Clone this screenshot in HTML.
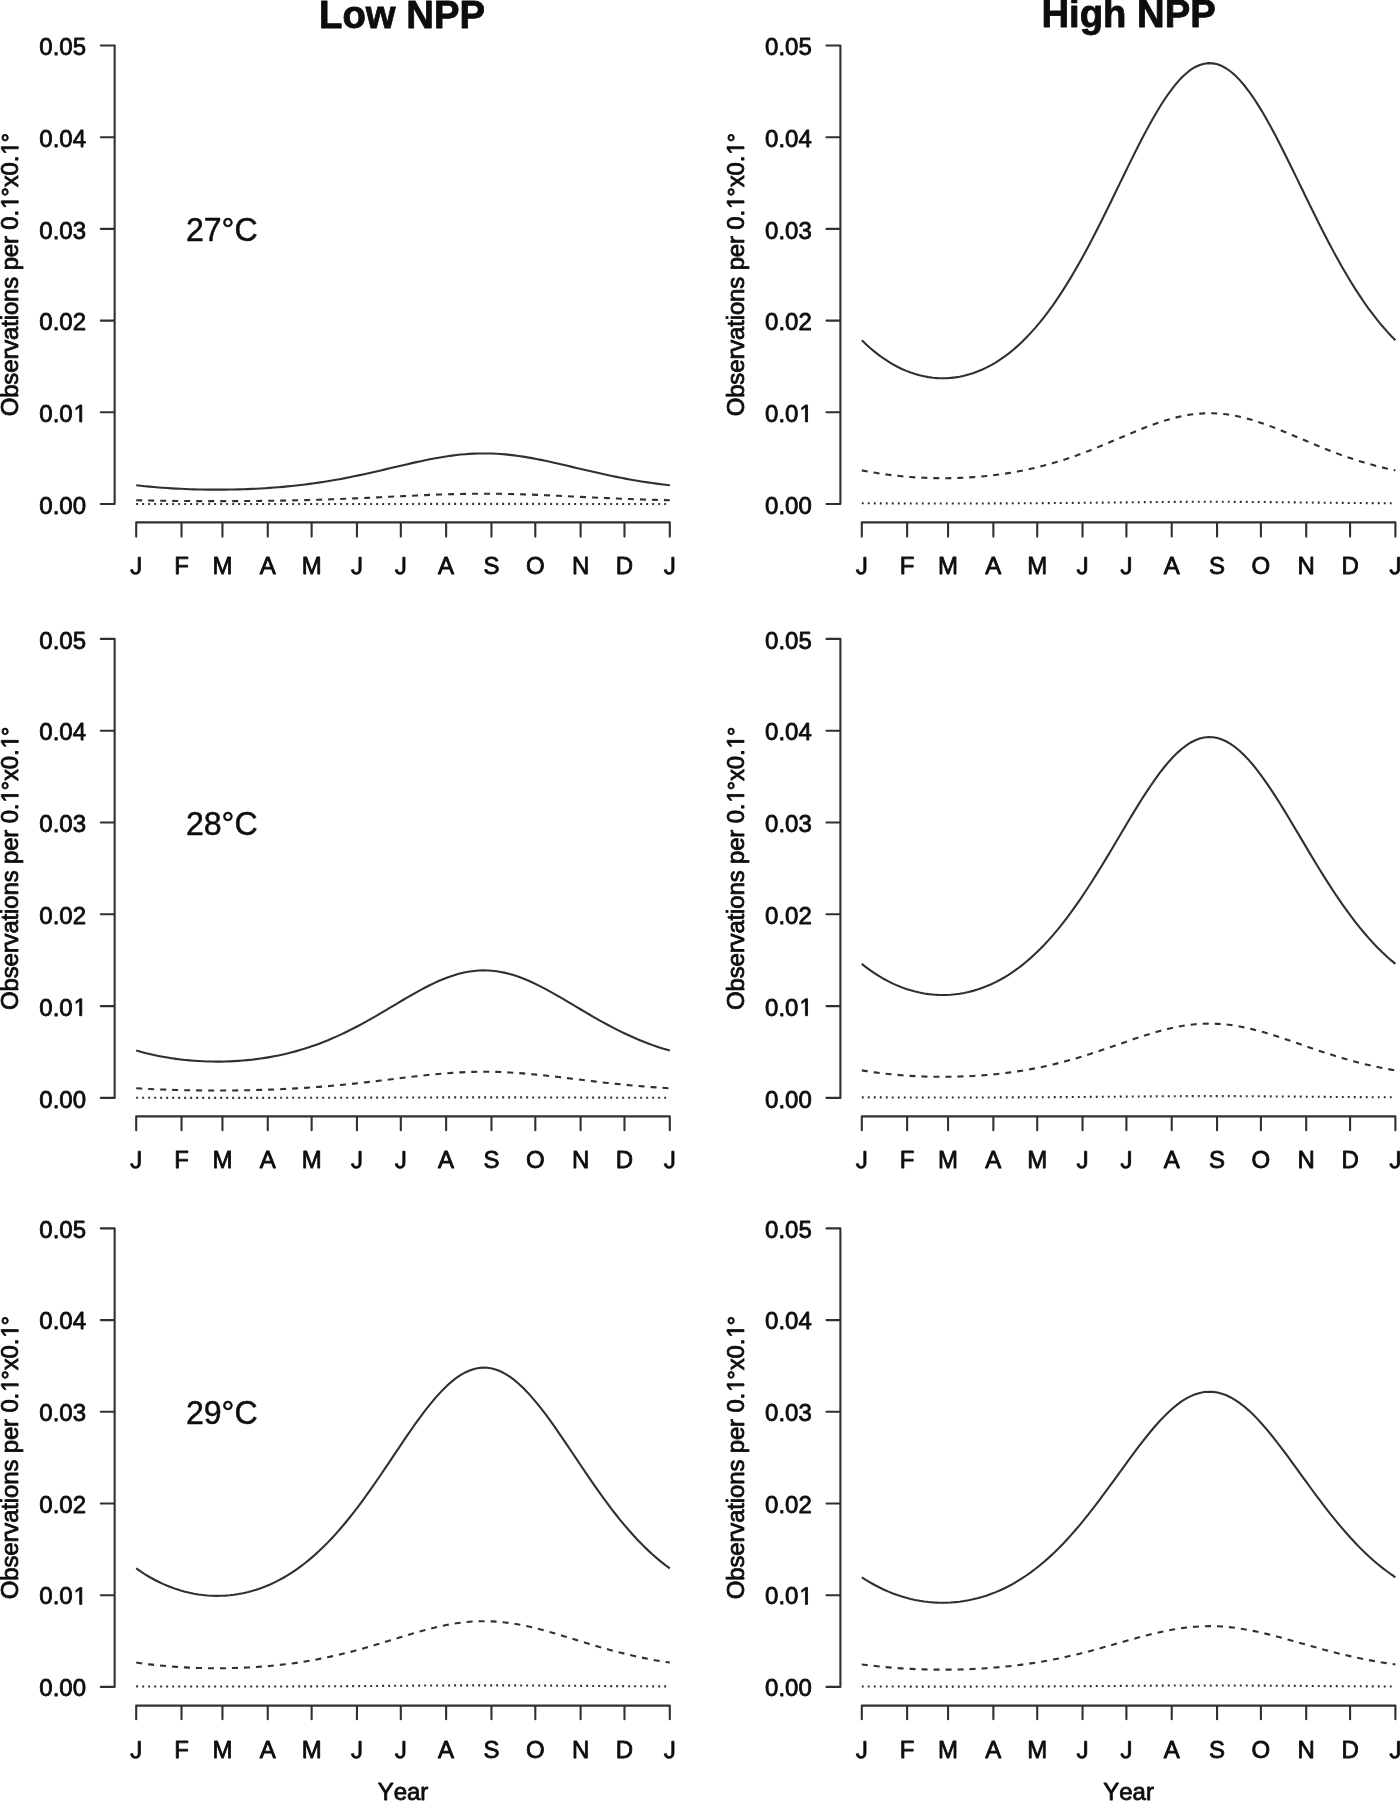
<!DOCTYPE html>
<html><head><meta charset="utf-8"><title>Figure</title>
<style>
html,body{margin:0;padding:0;background:#fff;}
svg{display:block;}
text{font-family:"Liberation Sans",sans-serif;font-kerning:none;fill:#0d0d0d;stroke:#0d0d0d;stroke-width:0.8px;stroke-linejoin:round;}
svg{filter:blur(0.65px);}
.ax{stroke:#303030;stroke-width:2.1;fill:none;stroke-linecap:round;stroke-linejoin:round;}
.c{stroke:#303030;stroke-width:2.1;fill:none;}
.d2{stroke-dasharray:6 6;}
.d3{stroke-dasharray:1.9 4.1;}
.gj{fill:#0d0d0d;stroke:#0d0d0d;stroke-width:68;stroke-linejoin:round;}
.h{fill:none;stroke:none;}
.t{font-size:24px;}
.ttl{font-size:38px;font-weight:bold;}
.tmp{font-size:32.6px;stroke-width:0.45px;}
.yt{letter-spacing:-0.16px;}
</style></head>
<body>
<svg width="1400" height="1802" viewBox="0 0 1400 1802">
<rect width="1400" height="1802" fill="#fff"/>
<text class="ttl" transform="translate(402.00 28.20) scale(1.008 1.025)" text-anchor="middle">Low NPP</text>
<text class="ttl" transform="translate(1128.60 27.30) scale(1.008 1.025)" text-anchor="middle">High NPP</text>
<g>
<path class="ax" d="M100.75 45.50 H114.65 V504.00 H100.75 M100.75 412.30 H114.65 M100.75 320.60 H114.65 M100.75 228.90 H114.65 M100.75 137.20 H114.65 M136.20 536.60 V522.40 H669.80 V536.60 M181.52 522.40 V536.60 M222.45 522.40 V536.60 M267.77 522.40 V536.60 M311.63 522.40 V536.60 M356.95 522.40 V536.60 M400.81 522.40 V536.60 M446.13 522.40 V536.60 M491.45 522.40 V536.60 M535.30 522.40 V536.60 M580.62 522.40 V536.60 M624.48 522.40 V536.60"/>
<text class="t" transform="translate(86.05 513.60) scale(1.000 1.025)" text-anchor="end">0.00</text>
<text class="t" transform="translate(86.05 421.90) scale(1.000 1.025)" text-anchor="end">0.0<tspan class="h">1</tspan></text>
<path class="gj" transform="translate(72.70 421.90) scale(0.011719 -0.012012)" d="M595 0V1237L277 1010V1180L610 1409H776V0Z"/>
<text class="t" transform="translate(86.05 330.20) scale(1.000 1.025)" text-anchor="end">0.02</text>
<text class="t" transform="translate(86.05 238.50) scale(1.000 1.025)" text-anchor="end">0.03</text>
<text class="t" transform="translate(86.05 146.80) scale(1.000 1.025)" text-anchor="end">0.04</text>
<text class="t" transform="translate(86.05 55.10) scale(1.000 1.025)" text-anchor="end">0.05</text>
<path class="gj" transform="translate(130.20 574.10) scale(0.011719 -0.012012)" d="M457 -20Q99 -20 32 350L219 381Q237 265 300 200Q363 135 458 135Q562 135 622 206.5Q682 278 682 416V1409H872V420Q872 215 761 97.5Q650 -20 457 -20Z"/>
<text class="t" transform="translate(181.52 574.10) scale(1.000 1.025)" text-anchor="middle">F</text>
<text class="t" transform="translate(222.45 574.10) scale(1.000 1.025)" text-anchor="middle">M</text>
<text class="t" transform="translate(267.77 574.10) scale(1.000 1.025)" text-anchor="middle">A</text>
<text class="t" transform="translate(311.63 574.10) scale(1.000 1.025)" text-anchor="middle">M</text>
<path class="gj" transform="translate(350.95 574.10) scale(0.011719 -0.012012)" d="M457 -20Q99 -20 32 350L219 381Q237 265 300 200Q363 135 458 135Q562 135 622 206.5Q682 278 682 416V1409H872V420Q872 215 761 97.5Q650 -20 457 -20Z"/>
<path class="gj" transform="translate(394.81 574.10) scale(0.011719 -0.012012)" d="M457 -20Q99 -20 32 350L219 381Q237 265 300 200Q363 135 458 135Q562 135 622 206.5Q682 278 682 416V1409H872V420Q872 215 761 97.5Q650 -20 457 -20Z"/>
<text class="t" transform="translate(446.13 574.10) scale(1.000 1.025)" text-anchor="middle">A</text>
<text class="t" transform="translate(491.45 574.10) scale(1.000 1.025)" text-anchor="middle">S</text>
<text class="t" transform="translate(535.30 574.10) scale(1.000 1.025)" text-anchor="middle">O</text>
<text class="t" transform="translate(580.62 574.10) scale(1.000 1.025)" text-anchor="middle">N</text>
<text class="t" transform="translate(624.48 574.10) scale(1.000 1.025)" text-anchor="middle">D</text>
<path class="gj" transform="translate(663.80 574.10) scale(0.011719 -0.012012)" d="M457 -20Q99 -20 32 350L219 381Q237 265 300 200Q363 135 458 135Q562 135 622 206.5Q682 278 682 416V1409H872V420Q872 215 761 97.5Q650 -20 457 -20Z"/>
<text class="t yt" transform="translate(18.25 274.75) rotate(-90) scale(1.000 1.025)" text-anchor="middle">Observations per 0.<tspan class="h">1</tspan>°x0.<tspan class="h">1</tspan>°</text>
<path class="gj" transform="translate(18.25 274.75) rotate(-90) scale(1 1.025) translate(64.806 0) scale(0.011719 -0.011719)" d="M595 0V1237L277 1010V1180L610 1409H776V0Z"/>
<path class="gj" transform="translate(18.25 274.75) rotate(-90) scale(1 1.025) translate(118.967 0) scale(0.011719 -0.011719)" d="M595 0V1237L277 1010V1180L610 1409H776V0Z"/>
<path class="c" d="M136.20 485.30 L140.65 485.79 L145.09 486.24 L149.54 486.67 L153.99 487.06 L158.43 487.43 L162.88 487.76 L167.33 488.07 L171.77 488.35 L176.22 488.60 L180.67 488.82 L185.11 489.02 L189.56 489.19 L194.01 489.33 L198.45 489.45 L202.90 489.54 L207.35 489.61 L211.79 489.65 L216.24 489.67 L220.69 489.66 L225.13 489.63 L229.58 489.57 L234.03 489.49 L238.47 489.38 L242.92 489.25 L247.37 489.09 L251.81 488.90 L256.26 488.69 L260.71 488.45 L265.15 488.19 L269.60 487.89 L274.05 487.57 L278.49 487.21 L282.94 486.83 L287.39 486.42 L291.83 485.98 L296.28 485.50 L300.73 484.99 L305.17 484.45 L309.62 483.88 L314.07 483.27 L318.51 482.63 L322.96 481.96 L327.41 481.25 L331.85 480.51 L336.30 479.74 L340.75 478.93 L345.19 478.10 L349.64 477.23 L354.09 476.33 L358.53 475.40 L362.98 474.45 L367.43 473.48 L371.87 472.48 L376.32 471.46 L380.77 470.43 L385.21 469.39 L389.66 468.34 L394.11 467.29 L398.55 466.23 L403.00 465.19 L407.45 464.15 L411.89 463.13 L416.34 462.13 L420.79 461.16 L425.23 460.22 L429.68 459.32 L434.13 458.47 L438.57 457.67 L443.02 456.92 L447.47 456.23 L451.91 455.61 L456.36 455.06 L460.81 454.58 L465.25 454.18 L469.70 453.87 L474.15 453.63 L478.59 453.49 L483.04 453.43 L487.49 453.45 L491.93 453.56 L496.38 453.76 L500.83 454.05 L505.27 454.41 L509.72 454.86 L514.17 455.38 L518.61 455.97 L523.06 456.63 L527.51 457.35 L531.95 458.14 L536.40 458.97 L540.85 459.85 L545.29 460.77 L549.74 461.73 L554.19 462.72 L558.63 463.73 L563.08 464.76 L567.53 465.80 L571.97 466.86 L576.42 467.91 L580.87 468.96 L585.31 470.01 L589.76 471.04 L594.21 472.07 L598.65 473.07 L603.10 474.06 L607.55 475.02 L611.99 475.96 L616.44 476.86 L620.89 477.75 L625.33 478.60 L629.78 479.42 L634.23 480.20 L638.67 480.96 L643.12 481.68 L647.57 482.36 L652.01 483.02 L656.46 483.64 L660.91 484.22 L665.35 484.78 L669.80 485.30"/>
<path class="c d2" d="M136.20 500.26 L140.65 500.36 L145.09 500.46 L149.54 500.55 L153.99 500.63 L158.43 500.70 L162.88 500.77 L167.33 500.83 L171.77 500.89 L176.22 500.94 L180.67 500.99 L185.11 501.03 L189.56 501.06 L194.01 501.09 L198.45 501.12 L202.90 501.14 L207.35 501.15 L211.79 501.16 L216.24 501.16 L220.69 501.16 L225.13 501.16 L229.58 501.14 L234.03 501.13 L238.47 501.10 L242.92 501.08 L247.37 501.04 L251.81 501.01 L256.26 500.96 L260.71 500.91 L265.15 500.86 L269.60 500.80 L274.05 500.73 L278.49 500.66 L282.94 500.58 L287.39 500.49 L291.83 500.40 L296.28 500.30 L300.73 500.20 L305.17 500.09 L309.62 499.97 L314.07 499.85 L318.51 499.71 L322.96 499.57 L327.41 499.43 L331.85 499.28 L336.30 499.12 L340.75 498.95 L345.19 498.78 L349.64 498.60 L354.09 498.41 L358.53 498.22 L362.98 498.03 L367.43 497.83 L371.87 497.62 L376.32 497.41 L380.77 497.20 L385.21 496.98 L389.66 496.77 L394.11 496.55 L398.55 496.33 L403.00 496.12 L407.45 495.90 L411.89 495.69 L416.34 495.49 L420.79 495.29 L425.23 495.09 L429.68 494.91 L434.13 494.73 L438.57 494.57 L443.02 494.41 L447.47 494.27 L451.91 494.14 L456.36 494.03 L460.81 493.93 L465.25 493.85 L469.70 493.78 L474.15 493.73 L478.59 493.70 L483.04 493.69 L487.49 493.70 L491.93 493.72 L496.38 493.76 L500.83 493.82 L505.27 493.89 L509.72 493.99 L514.17 494.09 L518.61 494.22 L523.06 494.35 L527.51 494.50 L531.95 494.66 L536.40 494.83 L540.85 495.02 L545.29 495.21 L549.74 495.40 L554.19 495.61 L558.63 495.82 L563.08 496.03 L567.53 496.24 L571.97 496.46 L576.42 496.68 L580.87 496.89 L585.31 497.11 L589.76 497.32 L594.21 497.53 L598.65 497.74 L603.10 497.95 L607.55 498.14 L611.99 498.34 L616.44 498.52 L620.89 498.71 L625.33 498.88 L629.78 499.05 L634.23 499.21 L638.67 499.37 L643.12 499.52 L647.57 499.66 L652.01 499.79 L656.46 499.92 L660.91 500.04 L665.35 500.16 L669.80 500.26"/>
<path class="c d3" d="M136.20 504.05 L140.65 504.05 L145.09 504.05 L149.54 504.06 L153.99 504.06 L158.43 504.06 L162.88 504.06 L167.33 504.06 L171.77 504.07 L176.22 504.07 L180.67 504.07 L185.11 504.07 L189.56 504.07 L194.01 504.07 L198.45 504.07 L202.90 504.07 L207.35 504.07 L211.79 504.07 L216.24 504.07 L220.69 504.07 L225.13 504.07 L229.58 504.07 L234.03 504.07 L238.47 504.07 L242.92 504.07 L247.37 504.07 L251.81 504.07 L256.26 504.07 L260.71 504.07 L265.15 504.06 L269.60 504.06 L274.05 504.06 L278.49 504.06 L282.94 504.06 L287.39 504.05 L291.83 504.05 L296.28 504.05 L300.73 504.05 L305.17 504.04 L309.62 504.04 L314.07 504.04 L318.51 504.03 L322.96 504.03 L327.41 504.03 L331.85 504.02 L336.30 504.02 L340.75 504.01 L345.19 504.01 L349.64 504.01 L354.09 504.00 L358.53 504.00 L362.98 503.99 L367.43 503.99 L371.87 503.98 L376.32 503.97 L380.77 503.97 L385.21 503.96 L389.66 503.96 L394.11 503.95 L398.55 503.95 L403.00 503.94 L407.45 503.93 L411.89 503.93 L416.34 503.92 L420.79 503.92 L425.23 503.91 L429.68 503.91 L434.13 503.90 L438.57 503.90 L443.02 503.90 L447.47 503.89 L451.91 503.89 L456.36 503.89 L460.81 503.88 L465.25 503.88 L469.70 503.88 L474.15 503.88 L478.59 503.88 L483.04 503.88 L487.49 503.88 L491.93 503.88 L496.38 503.88 L500.83 503.88 L505.27 503.88 L509.72 503.88 L514.17 503.89 L518.61 503.89 L523.06 503.89 L527.51 503.90 L531.95 503.90 L536.40 503.91 L540.85 503.91 L545.29 503.92 L549.74 503.92 L554.19 503.93 L558.63 503.93 L563.08 503.94 L567.53 503.94 L571.97 503.95 L576.42 503.96 L580.87 503.96 L585.31 503.97 L589.76 503.97 L594.21 503.98 L598.65 503.98 L603.10 503.99 L607.55 503.99 L611.99 504.00 L616.44 504.00 L620.89 504.01 L625.33 504.01 L629.78 504.02 L634.23 504.02 L638.67 504.03 L643.12 504.03 L647.57 504.03 L652.01 504.04 L656.46 504.04 L660.91 504.04 L665.35 504.05 L669.80 504.05"/>
<text class="tmp" transform="translate(185.90 241.00) scale(0.985 1.030)" text-anchor="start">27°C</text>
</g>
<g>
<path class="ax" d="M826.50 45.50 H840.40 V504.00 H826.50 M826.50 412.30 H840.40 M826.50 320.60 H840.40 M826.50 228.90 H840.40 M826.50 137.20 H840.40 M861.80 536.60 V522.40 H1395.40 V536.60 M907.12 522.40 V536.60 M948.05 522.40 V536.60 M993.37 522.40 V536.60 M1037.23 522.40 V536.60 M1082.55 522.40 V536.60 M1126.41 522.40 V536.60 M1171.73 522.40 V536.60 M1217.05 522.40 V536.60 M1260.90 522.40 V536.60 M1306.22 522.40 V536.60 M1350.08 522.40 V536.60"/>
<text class="t" transform="translate(811.80 513.60) scale(1.000 1.025)" text-anchor="end">0.00</text>
<text class="t" transform="translate(811.80 421.90) scale(1.000 1.025)" text-anchor="end">0.0<tspan class="h">1</tspan></text>
<path class="gj" transform="translate(798.45 421.90) scale(0.011719 -0.012012)" d="M595 0V1237L277 1010V1180L610 1409H776V0Z"/>
<text class="t" transform="translate(811.80 330.20) scale(1.000 1.025)" text-anchor="end">0.02</text>
<text class="t" transform="translate(811.80 238.50) scale(1.000 1.025)" text-anchor="end">0.03</text>
<text class="t" transform="translate(811.80 146.80) scale(1.000 1.025)" text-anchor="end">0.04</text>
<text class="t" transform="translate(811.80 55.10) scale(1.000 1.025)" text-anchor="end">0.05</text>
<path class="gj" transform="translate(855.80 574.10) scale(0.011719 -0.012012)" d="M457 -20Q99 -20 32 350L219 381Q237 265 300 200Q363 135 458 135Q562 135 622 206.5Q682 278 682 416V1409H872V420Q872 215 761 97.5Q650 -20 457 -20Z"/>
<text class="t" transform="translate(907.12 574.10) scale(1.000 1.025)" text-anchor="middle">F</text>
<text class="t" transform="translate(948.05 574.10) scale(1.000 1.025)" text-anchor="middle">M</text>
<text class="t" transform="translate(993.37 574.10) scale(1.000 1.025)" text-anchor="middle">A</text>
<text class="t" transform="translate(1037.23 574.10) scale(1.000 1.025)" text-anchor="middle">M</text>
<path class="gj" transform="translate(1076.55 574.10) scale(0.011719 -0.012012)" d="M457 -20Q99 -20 32 350L219 381Q237 265 300 200Q363 135 458 135Q562 135 622 206.5Q682 278 682 416V1409H872V420Q872 215 761 97.5Q650 -20 457 -20Z"/>
<path class="gj" transform="translate(1120.41 574.10) scale(0.011719 -0.012012)" d="M457 -20Q99 -20 32 350L219 381Q237 265 300 200Q363 135 458 135Q562 135 622 206.5Q682 278 682 416V1409H872V420Q872 215 761 97.5Q650 -20 457 -20Z"/>
<text class="t" transform="translate(1171.73 574.10) scale(1.000 1.025)" text-anchor="middle">A</text>
<text class="t" transform="translate(1217.05 574.10) scale(1.000 1.025)" text-anchor="middle">S</text>
<text class="t" transform="translate(1260.90 574.10) scale(1.000 1.025)" text-anchor="middle">O</text>
<text class="t" transform="translate(1306.22 574.10) scale(1.000 1.025)" text-anchor="middle">N</text>
<text class="t" transform="translate(1350.08 574.10) scale(1.000 1.025)" text-anchor="middle">D</text>
<path class="gj" transform="translate(1389.40 574.10) scale(0.011719 -0.012012)" d="M457 -20Q99 -20 32 350L219 381Q237 265 300 200Q363 135 458 135Q562 135 622 206.5Q682 278 682 416V1409H872V420Q872 215 761 97.5Q650 -20 457 -20Z"/>
<text class="t yt" transform="translate(744.00 274.75) rotate(-90) scale(1.000 1.025)" text-anchor="middle">Observations per 0.<tspan class="h">1</tspan>°x0.<tspan class="h">1</tspan>°</text>
<path class="gj" transform="translate(744.00 274.75) rotate(-90) scale(1 1.025) translate(64.806 0) scale(0.011719 -0.011719)" d="M595 0V1237L277 1010V1180L610 1409H776V0Z"/>
<path class="gj" transform="translate(744.00 274.75) rotate(-90) scale(1 1.025) translate(118.967 0) scale(0.011719 -0.011719)" d="M595 0V1237L277 1010V1180L610 1409H776V0Z"/>
<path class="c" d="M861.80 340.24 L866.25 344.48 L870.69 348.45 L875.14 352.15 L879.59 355.58 L884.03 358.75 L888.48 361.67 L892.93 364.33 L897.37 366.75 L901.82 368.93 L906.27 370.87 L910.71 372.57 L915.16 374.05 L919.61 375.30 L924.05 376.33 L928.50 377.13 L932.95 377.72 L937.39 378.09 L941.84 378.24 L946.29 378.18 L950.73 377.90 L955.18 377.40 L959.63 376.68 L964.07 375.74 L968.52 374.59 L972.97 373.20 L977.41 371.59 L981.86 369.75 L986.31 367.67 L990.75 365.35 L995.20 362.79 L999.65 359.97 L1004.09 356.91 L1008.54 353.58 L1012.99 349.99 L1017.43 346.13 L1021.88 342.00 L1026.33 337.59 L1030.77 332.90 L1035.22 327.91 L1039.67 322.64 L1044.11 317.08 L1048.56 311.23 L1053.01 305.08 L1057.45 298.64 L1061.90 291.92 L1066.35 284.91 L1070.79 277.63 L1075.24 270.08 L1079.69 262.27 L1084.13 254.22 L1088.58 245.94 L1093.03 237.46 L1097.47 228.79 L1101.92 219.96 L1106.37 211.00 L1110.81 201.93 L1115.26 192.80 L1119.71 183.64 L1124.15 174.49 L1128.60 165.38 L1133.05 156.37 L1137.49 147.50 L1141.94 138.83 L1146.39 130.38 L1150.83 122.23 L1155.28 114.42 L1159.73 106.99 L1164.17 100.00 L1168.62 93.50 L1173.07 87.53 L1177.51 82.12 L1181.96 77.34 L1186.41 73.19 L1190.85 69.73 L1195.30 66.98 L1199.75 64.95 L1204.19 63.66 L1208.64 63.13 L1213.09 63.35 L1217.53 64.33 L1221.98 66.06 L1226.43 68.52 L1230.87 71.70 L1235.32 75.57 L1239.77 80.09 L1244.21 85.25 L1248.66 91.00 L1253.11 97.29 L1257.55 104.09 L1262.00 111.34 L1266.45 119.00 L1270.89 127.02 L1275.34 135.35 L1279.79 143.94 L1284.23 152.73 L1288.68 161.69 L1293.13 170.76 L1297.57 179.90 L1302.02 189.07 L1306.47 198.21 L1310.91 207.31 L1315.36 216.32 L1319.81 225.20 L1324.25 233.94 L1328.70 242.50 L1333.15 250.87 L1337.59 259.01 L1342.04 266.92 L1346.49 274.58 L1350.93 281.97 L1355.38 289.09 L1359.83 295.94 L1364.27 302.49 L1368.72 308.76 L1373.17 314.73 L1377.61 320.41 L1382.06 325.80 L1386.51 330.90 L1390.95 335.71 L1395.40 340.24"/>
<path class="c d2" d="M861.80 470.35 L866.25 471.23 L870.69 472.05 L875.14 472.81 L879.59 473.52 L884.03 474.17 L888.48 474.77 L892.93 475.32 L897.37 475.82 L901.82 476.27 L906.27 476.67 L910.71 477.02 L915.16 477.33 L919.61 477.58 L924.05 477.79 L928.50 477.96 L932.95 478.08 L937.39 478.16 L941.84 478.19 L946.29 478.18 L950.73 478.12 L955.18 478.02 L959.63 477.87 L964.07 477.67 L968.52 477.44 L972.97 477.15 L977.41 476.82 L981.86 476.44 L986.31 476.01 L990.75 475.53 L995.20 475.00 L999.65 474.42 L1004.09 473.79 L1008.54 473.11 L1012.99 472.37 L1017.43 471.57 L1021.88 470.72 L1026.33 469.81 L1030.77 468.84 L1035.22 467.81 L1039.67 466.73 L1044.11 465.58 L1048.56 464.37 L1053.01 463.11 L1057.45 461.78 L1061.90 460.39 L1066.35 458.95 L1070.79 457.44 L1075.24 455.89 L1079.69 454.28 L1084.13 452.62 L1088.58 450.91 L1093.03 449.16 L1097.47 447.37 L1101.92 445.55 L1106.37 443.71 L1110.81 441.84 L1115.26 439.95 L1119.71 438.07 L1124.15 436.18 L1128.60 434.30 L1133.05 432.44 L1137.49 430.61 L1141.94 428.83 L1146.39 427.09 L1150.83 425.40 L1155.28 423.79 L1159.73 422.26 L1164.17 420.82 L1168.62 419.48 L1173.07 418.25 L1177.51 417.13 L1181.96 416.15 L1186.41 415.29 L1190.85 414.58 L1195.30 414.01 L1199.75 413.59 L1204.19 413.33 L1208.64 413.22 L1213.09 413.26 L1217.53 413.47 L1221.98 413.82 L1226.43 414.33 L1230.87 414.98 L1235.32 415.78 L1239.77 416.72 L1244.21 417.78 L1248.66 418.96 L1253.11 420.26 L1257.55 421.66 L1262.00 423.16 L1266.45 424.74 L1270.89 426.39 L1275.34 428.11 L1279.79 429.88 L1284.23 431.69 L1288.68 433.54 L1293.13 435.41 L1297.57 437.29 L1302.02 439.18 L1306.47 441.07 L1310.91 442.95 L1315.36 444.80 L1319.81 446.64 L1324.25 448.44 L1328.70 450.20 L1333.15 451.93 L1337.59 453.61 L1342.04 455.24 L1346.49 456.82 L1350.93 458.34 L1355.38 459.81 L1359.83 461.22 L1364.27 462.57 L1368.72 463.86 L1373.17 465.09 L1377.61 466.27 L1382.06 467.38 L1386.51 468.43 L1390.95 469.42 L1395.40 470.35"/>
<path class="c d3" d="M861.80 503.27 L866.25 503.29 L870.69 503.31 L875.14 503.33 L879.59 503.35 L884.03 503.37 L888.48 503.38 L892.93 503.40 L897.37 503.41 L901.82 503.42 L906.27 503.43 L910.71 503.44 L915.16 503.45 L919.61 503.46 L924.05 503.46 L928.50 503.47 L932.95 503.47 L937.39 503.47 L941.84 503.47 L946.29 503.47 L950.73 503.47 L955.18 503.47 L959.63 503.46 L964.07 503.46 L968.52 503.45 L972.97 503.45 L977.41 503.44 L981.86 503.43 L986.31 503.42 L990.75 503.40 L995.20 503.39 L999.65 503.37 L1004.09 503.36 L1008.54 503.34 L1012.99 503.32 L1017.43 503.30 L1021.88 503.28 L1026.33 503.25 L1030.77 503.23 L1035.22 503.20 L1039.67 503.17 L1044.11 503.14 L1048.56 503.11 L1053.01 503.08 L1057.45 503.05 L1061.90 503.01 L1066.35 502.97 L1070.79 502.93 L1075.24 502.89 L1079.69 502.85 L1084.13 502.81 L1088.58 502.76 L1093.03 502.72 L1097.47 502.67 L1101.92 502.62 L1106.37 502.57 L1110.81 502.53 L1115.26 502.48 L1119.71 502.43 L1124.15 502.38 L1128.60 502.33 L1133.05 502.28 L1137.49 502.23 L1141.94 502.19 L1146.39 502.14 L1150.83 502.10 L1155.28 502.05 L1159.73 502.01 L1164.17 501.98 L1168.62 501.94 L1173.07 501.91 L1177.51 501.88 L1181.96 501.86 L1186.41 501.83 L1190.85 501.81 L1195.30 501.80 L1199.75 501.79 L1204.19 501.78 L1208.64 501.78 L1213.09 501.78 L1217.53 501.79 L1221.98 501.79 L1226.43 501.81 L1230.87 501.82 L1235.32 501.85 L1239.77 501.87 L1244.21 501.90 L1248.66 501.93 L1253.11 501.96 L1257.55 502.00 L1262.00 502.04 L1266.45 502.08 L1270.89 502.12 L1275.34 502.17 L1279.79 502.21 L1284.23 502.26 L1288.68 502.31 L1293.13 502.36 L1297.57 502.41 L1302.02 502.46 L1306.47 502.51 L1310.91 502.55 L1315.36 502.60 L1319.81 502.65 L1324.25 502.70 L1328.70 502.74 L1333.15 502.79 L1337.59 502.83 L1342.04 502.87 L1346.49 502.92 L1350.93 502.96 L1355.38 502.99 L1359.83 503.03 L1364.27 503.07 L1368.72 503.10 L1373.17 503.13 L1377.61 503.16 L1382.06 503.19 L1386.51 503.22 L1390.95 503.24 L1395.40 503.27"/>
</g>
<g>
<path class="ax" d="M100.75 638.90 H114.65 V1097.90 H100.75 M100.75 1006.10 H114.65 M100.75 914.30 H114.65 M100.75 822.50 H114.65 M100.75 730.70 H114.65 M136.20 1130.30 V1116.40 H669.80 V1130.30 M181.52 1116.40 V1130.30 M222.45 1116.40 V1130.30 M267.77 1116.40 V1130.30 M311.63 1116.40 V1130.30 M356.95 1116.40 V1130.30 M400.81 1116.40 V1130.30 M446.13 1116.40 V1130.30 M491.45 1116.40 V1130.30 M535.30 1116.40 V1130.30 M580.62 1116.40 V1130.30 M624.48 1116.40 V1130.30"/>
<text class="t" transform="translate(86.05 1107.50) scale(1.000 1.025)" text-anchor="end">0.00</text>
<text class="t" transform="translate(86.05 1015.70) scale(1.000 1.025)" text-anchor="end">0.0<tspan class="h">1</tspan></text>
<path class="gj" transform="translate(72.70 1015.70) scale(0.011719 -0.012012)" d="M595 0V1237L277 1010V1180L610 1409H776V0Z"/>
<text class="t" transform="translate(86.05 923.90) scale(1.000 1.025)" text-anchor="end">0.02</text>
<text class="t" transform="translate(86.05 832.10) scale(1.000 1.025)" text-anchor="end">0.03</text>
<text class="t" transform="translate(86.05 740.30) scale(1.000 1.025)" text-anchor="end">0.04</text>
<text class="t" transform="translate(86.05 648.50) scale(1.000 1.025)" text-anchor="end">0.05</text>
<path class="gj" transform="translate(130.20 1168.10) scale(0.011719 -0.012012)" d="M457 -20Q99 -20 32 350L219 381Q237 265 300 200Q363 135 458 135Q562 135 622 206.5Q682 278 682 416V1409H872V420Q872 215 761 97.5Q650 -20 457 -20Z"/>
<text class="t" transform="translate(181.52 1168.10) scale(1.000 1.025)" text-anchor="middle">F</text>
<text class="t" transform="translate(222.45 1168.10) scale(1.000 1.025)" text-anchor="middle">M</text>
<text class="t" transform="translate(267.77 1168.10) scale(1.000 1.025)" text-anchor="middle">A</text>
<text class="t" transform="translate(311.63 1168.10) scale(1.000 1.025)" text-anchor="middle">M</text>
<path class="gj" transform="translate(350.95 1168.10) scale(0.011719 -0.012012)" d="M457 -20Q99 -20 32 350L219 381Q237 265 300 200Q363 135 458 135Q562 135 622 206.5Q682 278 682 416V1409H872V420Q872 215 761 97.5Q650 -20 457 -20Z"/>
<path class="gj" transform="translate(394.81 1168.10) scale(0.011719 -0.012012)" d="M457 -20Q99 -20 32 350L219 381Q237 265 300 200Q363 135 458 135Q562 135 622 206.5Q682 278 682 416V1409H872V420Q872 215 761 97.5Q650 -20 457 -20Z"/>
<text class="t" transform="translate(446.13 1168.10) scale(1.000 1.025)" text-anchor="middle">A</text>
<text class="t" transform="translate(491.45 1168.10) scale(1.000 1.025)" text-anchor="middle">S</text>
<text class="t" transform="translate(535.30 1168.10) scale(1.000 1.025)" text-anchor="middle">O</text>
<text class="t" transform="translate(580.62 1168.10) scale(1.000 1.025)" text-anchor="middle">N</text>
<text class="t" transform="translate(624.48 1168.10) scale(1.000 1.025)" text-anchor="middle">D</text>
<path class="gj" transform="translate(663.80 1168.10) scale(0.011719 -0.012012)" d="M457 -20Q99 -20 32 350L219 381Q237 265 300 200Q363 135 458 135Q562 135 622 206.5Q682 278 682 416V1409H872V420Q872 215 761 97.5Q650 -20 457 -20Z"/>
<text class="t yt" transform="translate(18.25 868.40) rotate(-90) scale(1.000 1.025)" text-anchor="middle">Observations per 0.<tspan class="h">1</tspan>°x0.<tspan class="h">1</tspan>°</text>
<path class="gj" transform="translate(18.25 868.40) rotate(-90) scale(1 1.025) translate(64.806 0) scale(0.011719 -0.011719)" d="M595 0V1237L277 1010V1180L610 1409H776V0Z"/>
<path class="gj" transform="translate(18.25 868.40) rotate(-90) scale(1 1.025) translate(118.967 0) scale(0.011719 -0.011719)" d="M595 0V1237L277 1010V1180L610 1409H776V0Z"/>
<path class="c" d="M136.20 1050.61 L140.65 1051.84 L145.09 1052.99 L149.54 1054.06 L153.99 1055.05 L158.43 1055.97 L162.88 1056.81 L167.33 1057.58 L171.77 1058.28 L176.22 1058.91 L180.67 1059.48 L185.11 1059.97 L189.56 1060.40 L194.01 1060.76 L198.45 1061.06 L202.90 1061.29 L207.35 1061.46 L211.79 1061.57 L216.24 1061.61 L220.69 1061.59 L225.13 1061.51 L229.58 1061.37 L234.03 1061.16 L238.47 1060.89 L242.92 1060.55 L247.37 1060.15 L251.81 1059.69 L256.26 1059.15 L260.71 1058.55 L265.15 1057.88 L269.60 1057.14 L274.05 1056.32 L278.49 1055.44 L282.94 1054.47 L287.39 1053.43 L291.83 1052.32 L296.28 1051.12 L300.73 1049.84 L305.17 1048.49 L309.62 1047.04 L314.07 1045.52 L318.51 1043.91 L322.96 1042.22 L327.41 1040.44 L331.85 1038.57 L336.30 1036.63 L340.75 1034.60 L345.19 1032.49 L349.64 1030.31 L354.09 1028.05 L358.53 1025.72 L362.98 1023.32 L367.43 1020.86 L371.87 1018.36 L376.32 1015.80 L380.77 1013.21 L385.21 1010.58 L389.66 1007.94 L394.11 1005.29 L398.55 1002.64 L403.00 1000.00 L407.45 997.40 L411.89 994.83 L416.34 992.32 L420.79 989.88 L425.23 987.52 L429.68 985.26 L434.13 983.11 L438.57 981.08 L443.02 979.20 L447.47 977.47 L451.91 975.91 L456.36 974.52 L460.81 973.32 L465.25 972.32 L469.70 971.52 L474.15 970.94 L478.59 970.57 L483.04 970.41 L487.49 970.48 L491.93 970.76 L496.38 971.26 L500.83 971.97 L505.27 972.89 L509.72 974.01 L514.17 975.32 L518.61 976.81 L523.06 978.48 L527.51 980.30 L531.95 982.26 L536.40 984.36 L540.85 986.58 L545.29 988.90 L549.74 991.31 L554.19 993.80 L558.63 996.34 L563.08 998.94 L567.53 1001.56 L571.97 1004.21 L576.42 1006.86 L580.87 1009.51 L585.31 1012.14 L589.76 1014.75 L594.21 1017.32 L598.65 1019.85 L603.10 1022.33 L607.55 1024.75 L611.99 1027.10 L616.44 1029.39 L620.89 1031.61 L625.33 1033.75 L629.78 1035.81 L634.23 1037.79 L638.67 1039.69 L643.12 1041.50 L647.57 1043.23 L652.01 1044.87 L656.46 1046.43 L660.91 1047.91 L665.35 1049.30 L669.80 1050.61"/>
<path class="c d2" d="M136.20 1088.27 L140.65 1088.52 L145.09 1088.76 L149.54 1088.98 L153.99 1089.18 L158.43 1089.37 L162.88 1089.55 L167.33 1089.71 L171.77 1089.85 L176.22 1089.98 L180.67 1090.10 L185.11 1090.20 L189.56 1090.29 L194.01 1090.36 L198.45 1090.42 L202.90 1090.47 L207.35 1090.51 L211.79 1090.53 L216.24 1090.54 L220.69 1090.53 L225.13 1090.52 L229.58 1090.49 L234.03 1090.44 L238.47 1090.39 L242.92 1090.32 L247.37 1090.24 L251.81 1090.14 L256.26 1090.03 L260.71 1089.91 L265.15 1089.77 L269.60 1089.61 L274.05 1089.45 L278.49 1089.26 L282.94 1089.07 L287.39 1088.85 L291.83 1088.62 L296.28 1088.37 L300.73 1088.11 L305.17 1087.83 L309.62 1087.53 L314.07 1087.22 L318.51 1086.89 L322.96 1086.54 L327.41 1086.17 L331.85 1085.79 L336.30 1085.39 L340.75 1084.97 L345.19 1084.53 L349.64 1084.08 L354.09 1083.62 L358.53 1083.14 L362.98 1082.64 L367.43 1082.14 L371.87 1081.62 L376.32 1081.09 L380.77 1080.56 L385.21 1080.02 L389.66 1079.47 L394.11 1078.92 L398.55 1078.38 L403.00 1077.83 L407.45 1077.30 L411.89 1076.77 L416.34 1076.25 L420.79 1075.75 L425.23 1075.26 L429.68 1074.79 L434.13 1074.35 L438.57 1073.93 L443.02 1073.55 L447.47 1073.19 L451.91 1072.87 L456.36 1072.58 L460.81 1072.33 L465.25 1072.13 L469.70 1071.96 L474.15 1071.84 L478.59 1071.76 L483.04 1071.73 L487.49 1071.75 L491.93 1071.80 L496.38 1071.91 L500.83 1072.05 L505.27 1072.24 L509.72 1072.47 L514.17 1072.75 L518.61 1073.05 L523.06 1073.40 L527.51 1073.77 L531.95 1074.18 L536.40 1074.61 L540.85 1075.07 L545.29 1075.55 L549.74 1076.04 L554.19 1076.55 L558.63 1077.08 L563.08 1077.61 L567.53 1078.16 L571.97 1078.70 L576.42 1079.25 L580.87 1079.79 L585.31 1080.34 L589.76 1080.87 L594.21 1081.40 L598.65 1081.93 L603.10 1082.44 L607.55 1082.94 L611.99 1083.42 L616.44 1083.89 L620.89 1084.35 L625.33 1084.79 L629.78 1085.22 L634.23 1085.63 L638.67 1086.02 L643.12 1086.39 L647.57 1086.75 L652.01 1087.09 L656.46 1087.41 L660.91 1087.71 L665.35 1088.00 L669.80 1088.27"/>
<path class="c d3" d="M136.20 1097.79 L140.65 1097.80 L145.09 1097.81 L149.54 1097.81 L153.99 1097.82 L158.43 1097.82 L162.88 1097.83 L167.33 1097.83 L171.77 1097.84 L176.22 1097.84 L180.67 1097.84 L185.11 1097.85 L189.56 1097.85 L194.01 1097.85 L198.45 1097.85 L202.90 1097.85 L207.35 1097.85 L211.79 1097.85 L216.24 1097.85 L220.69 1097.85 L225.13 1097.85 L229.58 1097.85 L234.03 1097.85 L238.47 1097.85 L242.92 1097.85 L247.37 1097.85 L251.81 1097.84 L256.26 1097.84 L260.71 1097.84 L265.15 1097.83 L269.60 1097.83 L274.05 1097.83 L278.49 1097.82 L282.94 1097.82 L287.39 1097.81 L291.83 1097.80 L296.28 1097.80 L300.73 1097.79 L305.17 1097.78 L309.62 1097.78 L314.07 1097.77 L318.51 1097.76 L322.96 1097.75 L327.41 1097.74 L331.85 1097.73 L336.30 1097.72 L340.75 1097.71 L345.19 1097.70 L349.64 1097.69 L354.09 1097.67 L358.53 1097.66 L362.98 1097.65 L367.43 1097.64 L371.87 1097.62 L376.32 1097.61 L380.77 1097.59 L385.21 1097.58 L389.66 1097.57 L394.11 1097.55 L398.55 1097.54 L403.00 1097.52 L407.45 1097.51 L411.89 1097.50 L416.34 1097.48 L420.79 1097.47 L425.23 1097.46 L429.68 1097.44 L434.13 1097.43 L438.57 1097.42 L443.02 1097.41 L447.47 1097.40 L451.91 1097.39 L456.36 1097.39 L460.81 1097.38 L465.25 1097.37 L469.70 1097.37 L474.15 1097.37 L478.59 1097.36 L483.04 1097.36 L487.49 1097.36 L491.93 1097.37 L496.38 1097.37 L500.83 1097.37 L505.27 1097.38 L509.72 1097.38 L514.17 1097.39 L518.61 1097.40 L523.06 1097.41 L527.51 1097.42 L531.95 1097.43 L536.40 1097.44 L540.85 1097.45 L545.29 1097.46 L549.74 1097.48 L554.19 1097.49 L558.63 1097.50 L563.08 1097.52 L567.53 1097.53 L571.97 1097.55 L576.42 1097.56 L580.87 1097.57 L585.31 1097.59 L589.76 1097.60 L594.21 1097.62 L598.65 1097.63 L603.10 1097.64 L607.55 1097.66 L611.99 1097.67 L616.44 1097.68 L620.89 1097.69 L625.33 1097.70 L629.78 1097.72 L634.23 1097.73 L638.67 1097.74 L643.12 1097.75 L647.57 1097.76 L652.01 1097.76 L656.46 1097.77 L660.91 1097.78 L665.35 1097.79 L669.80 1097.79"/>
<text class="tmp" transform="translate(185.90 834.60) scale(0.985 1.030)" text-anchor="start">28°C</text>
</g>
<g>
<path class="ax" d="M826.50 638.90 H840.40 V1097.90 H826.50 M826.50 1006.10 H840.40 M826.50 914.30 H840.40 M826.50 822.50 H840.40 M826.50 730.70 H840.40 M861.80 1130.30 V1116.40 H1395.40 V1130.30 M907.12 1116.40 V1130.30 M948.05 1116.40 V1130.30 M993.37 1116.40 V1130.30 M1037.23 1116.40 V1130.30 M1082.55 1116.40 V1130.30 M1126.41 1116.40 V1130.30 M1171.73 1116.40 V1130.30 M1217.05 1116.40 V1130.30 M1260.90 1116.40 V1130.30 M1306.22 1116.40 V1130.30 M1350.08 1116.40 V1130.30"/>
<text class="t" transform="translate(811.80 1107.50) scale(1.000 1.025)" text-anchor="end">0.00</text>
<text class="t" transform="translate(811.80 1015.70) scale(1.000 1.025)" text-anchor="end">0.0<tspan class="h">1</tspan></text>
<path class="gj" transform="translate(798.45 1015.70) scale(0.011719 -0.012012)" d="M595 0V1237L277 1010V1180L610 1409H776V0Z"/>
<text class="t" transform="translate(811.80 923.90) scale(1.000 1.025)" text-anchor="end">0.02</text>
<text class="t" transform="translate(811.80 832.10) scale(1.000 1.025)" text-anchor="end">0.03</text>
<text class="t" transform="translate(811.80 740.30) scale(1.000 1.025)" text-anchor="end">0.04</text>
<text class="t" transform="translate(811.80 648.50) scale(1.000 1.025)" text-anchor="end">0.05</text>
<path class="gj" transform="translate(855.80 1168.10) scale(0.011719 -0.012012)" d="M457 -20Q99 -20 32 350L219 381Q237 265 300 200Q363 135 458 135Q562 135 622 206.5Q682 278 682 416V1409H872V420Q872 215 761 97.5Q650 -20 457 -20Z"/>
<text class="t" transform="translate(907.12 1168.10) scale(1.000 1.025)" text-anchor="middle">F</text>
<text class="t" transform="translate(948.05 1168.10) scale(1.000 1.025)" text-anchor="middle">M</text>
<text class="t" transform="translate(993.37 1168.10) scale(1.000 1.025)" text-anchor="middle">A</text>
<text class="t" transform="translate(1037.23 1168.10) scale(1.000 1.025)" text-anchor="middle">M</text>
<path class="gj" transform="translate(1076.55 1168.10) scale(0.011719 -0.012012)" d="M457 -20Q99 -20 32 350L219 381Q237 265 300 200Q363 135 458 135Q562 135 622 206.5Q682 278 682 416V1409H872V420Q872 215 761 97.5Q650 -20 457 -20Z"/>
<path class="gj" transform="translate(1120.41 1168.10) scale(0.011719 -0.012012)" d="M457 -20Q99 -20 32 350L219 381Q237 265 300 200Q363 135 458 135Q562 135 622 206.5Q682 278 682 416V1409H872V420Q872 215 761 97.5Q650 -20 457 -20Z"/>
<text class="t" transform="translate(1171.73 1168.10) scale(1.000 1.025)" text-anchor="middle">A</text>
<text class="t" transform="translate(1217.05 1168.10) scale(1.000 1.025)" text-anchor="middle">S</text>
<text class="t" transform="translate(1260.90 1168.10) scale(1.000 1.025)" text-anchor="middle">O</text>
<text class="t" transform="translate(1306.22 1168.10) scale(1.000 1.025)" text-anchor="middle">N</text>
<text class="t" transform="translate(1350.08 1168.10) scale(1.000 1.025)" text-anchor="middle">D</text>
<path class="gj" transform="translate(1389.40 1168.10) scale(0.011719 -0.012012)" d="M457 -20Q99 -20 32 350L219 381Q237 265 300 200Q363 135 458 135Q562 135 622 206.5Q682 278 682 416V1409H872V420Q872 215 761 97.5Q650 -20 457 -20Z"/>
<text class="t yt" transform="translate(744.00 868.40) rotate(-90) scale(1.000 1.025)" text-anchor="middle">Observations per 0.<tspan class="h">1</tspan>°x0.<tspan class="h">1</tspan>°</text>
<path class="gj" transform="translate(744.00 868.40) rotate(-90) scale(1 1.025) translate(64.806 0) scale(0.011719 -0.011719)" d="M595 0V1237L277 1010V1180L610 1409H776V0Z"/>
<path class="gj" transform="translate(744.00 868.40) rotate(-90) scale(1 1.025) translate(118.967 0) scale(0.011719 -0.011719)" d="M595 0V1237L277 1010V1180L610 1409H776V0Z"/>
<path class="c" d="M861.80 963.89 L866.25 967.36 L870.69 970.61 L875.14 973.64 L879.59 976.45 L884.03 979.05 L888.48 981.43 L892.93 983.61 L897.37 985.59 L901.82 987.37 L906.27 988.96 L910.71 990.36 L915.16 991.56 L919.61 992.59 L924.05 993.43 L928.50 994.09 L932.95 994.57 L937.39 994.87 L941.84 994.99 L946.29 994.94 L950.73 994.71 L955.18 994.30 L959.63 993.72 L964.07 992.95 L968.52 992.00 L972.97 990.87 L977.41 989.55 L981.86 988.04 L986.31 986.34 L990.75 984.44 L995.20 982.35 L999.65 980.04 L1004.09 977.53 L1008.54 974.81 L1012.99 971.87 L1017.43 968.72 L1021.88 965.33 L1026.33 961.72 L1030.77 957.88 L1035.22 953.80 L1039.67 949.49 L1044.11 944.94 L1048.56 940.15 L1053.01 935.12 L1057.45 929.85 L1061.90 924.34 L1066.35 918.61 L1070.79 912.64 L1075.24 906.46 L1079.69 900.07 L1084.13 893.48 L1088.58 886.71 L1093.03 879.77 L1097.47 872.67 L1101.92 865.44 L1106.37 858.11 L1110.81 850.69 L1115.26 843.22 L1119.71 835.72 L1124.15 828.22 L1128.60 820.77 L1133.05 813.40 L1137.49 806.14 L1141.94 799.04 L1146.39 792.13 L1150.83 785.46 L1155.28 779.06 L1159.73 772.98 L1164.17 767.26 L1168.62 761.94 L1173.07 757.05 L1177.51 752.63 L1181.96 748.71 L1186.41 745.32 L1190.85 742.48 L1195.30 740.23 L1199.75 738.57 L1204.19 737.52 L1208.64 737.08 L1213.09 737.26 L1217.53 738.06 L1221.98 739.48 L1226.43 741.49 L1230.87 744.09 L1235.32 747.26 L1239.77 750.97 L1244.21 755.19 L1248.66 759.89 L1253.11 765.04 L1257.55 770.60 L1262.00 776.54 L1266.45 782.81 L1270.89 789.37 L1275.34 796.19 L1279.79 803.22 L1284.23 810.42 L1288.68 817.75 L1293.13 825.18 L1297.57 832.66 L1302.02 840.16 L1306.47 847.65 L1310.91 855.09 L1315.36 862.46 L1319.81 869.74 L1324.25 876.89 L1328.70 883.90 L1333.15 890.74 L1337.59 897.41 L1342.04 903.88 L1346.49 910.15 L1350.93 916.20 L1355.38 922.03 L1359.83 927.63 L1364.27 932.99 L1368.72 938.12 L1373.17 943.01 L1377.61 947.66 L1382.06 952.07 L1386.51 956.25 L1390.95 960.18 L1395.40 963.89"/>
<path class="c d2" d="M861.80 1070.39 L866.25 1071.10 L870.69 1071.77 L875.14 1072.40 L879.59 1072.98 L884.03 1073.51 L888.48 1074.01 L892.93 1074.45 L897.37 1074.86 L901.82 1075.23 L906.27 1075.56 L910.71 1075.84 L915.16 1076.09 L919.61 1076.31 L924.05 1076.48 L928.50 1076.61 L932.95 1076.71 L937.39 1076.78 L941.84 1076.80 L946.29 1076.79 L950.73 1076.74 L955.18 1076.66 L959.63 1076.54 L964.07 1076.38 L968.52 1076.18 L972.97 1075.95 L977.41 1075.68 L981.86 1075.37 L986.31 1075.02 L990.75 1074.63 L995.20 1074.19 L999.65 1073.72 L1004.09 1073.20 L1008.54 1072.64 L1012.99 1072.03 L1017.43 1071.38 L1021.88 1070.69 L1026.33 1069.94 L1030.77 1069.15 L1035.22 1068.31 L1039.67 1067.42 L1044.11 1066.48 L1048.56 1065.49 L1053.01 1064.46 L1057.45 1063.37 L1061.90 1062.23 L1066.35 1061.05 L1070.79 1059.82 L1075.24 1058.55 L1079.69 1057.23 L1084.13 1055.87 L1088.58 1054.47 L1093.03 1053.04 L1097.47 1051.58 L1101.92 1050.09 L1106.37 1048.58 L1110.81 1047.05 L1115.26 1045.51 L1119.71 1043.96 L1124.15 1042.42 L1128.60 1040.88 L1133.05 1039.36 L1137.49 1037.86 L1141.94 1036.40 L1146.39 1034.97 L1150.83 1033.60 L1155.28 1032.28 L1159.73 1031.03 L1164.17 1029.85 L1168.62 1028.75 L1173.07 1027.74 L1177.51 1026.83 L1181.96 1026.02 L1186.41 1025.32 L1190.85 1024.74 L1195.30 1024.27 L1199.75 1023.93 L1204.19 1023.71 L1208.64 1023.62 L1213.09 1023.66 L1217.53 1023.83 L1221.98 1024.12 L1226.43 1024.53 L1230.87 1025.07 L1235.32 1025.72 L1239.77 1026.49 L1244.21 1027.36 L1248.66 1028.33 L1253.11 1029.39 L1257.55 1030.54 L1262.00 1031.76 L1266.45 1033.05 L1270.89 1034.41 L1275.34 1035.81 L1279.79 1037.26 L1284.23 1038.75 L1288.68 1040.26 L1293.13 1041.79 L1297.57 1043.33 L1302.02 1044.88 L1306.47 1046.42 L1310.91 1047.96 L1315.36 1049.48 L1319.81 1050.98 L1324.25 1052.45 L1328.70 1053.89 L1333.15 1055.31 L1337.59 1056.68 L1342.04 1058.02 L1346.49 1059.31 L1350.93 1060.56 L1355.38 1061.76 L1359.83 1062.91 L1364.27 1064.02 L1368.72 1065.08 L1373.17 1066.08 L1377.61 1067.04 L1382.06 1067.95 L1386.51 1068.81 L1390.95 1069.62 L1395.40 1070.39"/>
<path class="c d3" d="M861.80 1097.33 L866.25 1097.35 L870.69 1097.36 L875.14 1097.38 L879.59 1097.40 L884.03 1097.41 L888.48 1097.42 L892.93 1097.43 L897.37 1097.45 L901.82 1097.45 L906.27 1097.46 L910.71 1097.47 L915.16 1097.48 L919.61 1097.48 L924.05 1097.49 L928.50 1097.49 L932.95 1097.49 L937.39 1097.50 L941.84 1097.50 L946.29 1097.50 L950.73 1097.49 L955.18 1097.49 L959.63 1097.49 L964.07 1097.48 L968.52 1097.48 L972.97 1097.47 L977.41 1097.47 L981.86 1097.46 L986.31 1097.45 L990.75 1097.44 L995.20 1097.43 L999.65 1097.42 L1004.09 1097.40 L1008.54 1097.39 L1012.99 1097.37 L1017.43 1097.35 L1021.88 1097.34 L1026.33 1097.32 L1030.77 1097.30 L1035.22 1097.27 L1039.67 1097.25 L1044.11 1097.23 L1048.56 1097.20 L1053.01 1097.17 L1057.45 1097.15 L1061.90 1097.12 L1066.35 1097.09 L1070.79 1097.05 L1075.24 1097.02 L1079.69 1096.99 L1084.13 1096.95 L1088.58 1096.91 L1093.03 1096.88 L1097.47 1096.84 L1101.92 1096.80 L1106.37 1096.76 L1110.81 1096.72 L1115.26 1096.68 L1119.71 1096.64 L1124.15 1096.60 L1128.60 1096.56 L1133.05 1096.52 L1137.49 1096.48 L1141.94 1096.44 L1146.39 1096.41 L1150.83 1096.37 L1155.28 1096.33 L1159.73 1096.30 L1164.17 1096.27 L1168.62 1096.24 L1173.07 1096.22 L1177.51 1096.19 L1181.96 1096.17 L1186.41 1096.15 L1190.85 1096.14 L1195.30 1096.13 L1199.75 1096.12 L1204.19 1096.11 L1208.64 1096.11 L1213.09 1096.11 L1217.53 1096.11 L1221.98 1096.12 L1226.43 1096.13 L1230.87 1096.15 L1235.32 1096.16 L1239.77 1096.18 L1244.21 1096.21 L1248.66 1096.23 L1253.11 1096.26 L1257.55 1096.29 L1262.00 1096.32 L1266.45 1096.36 L1270.89 1096.39 L1275.34 1096.43 L1279.79 1096.46 L1284.23 1096.50 L1288.68 1096.54 L1293.13 1096.58 L1297.57 1096.62 L1302.02 1096.66 L1306.47 1096.70 L1310.91 1096.74 L1315.36 1096.78 L1319.81 1096.82 L1324.25 1096.86 L1328.70 1096.90 L1333.15 1096.94 L1337.59 1096.97 L1342.04 1097.01 L1346.49 1097.04 L1350.93 1097.07 L1355.38 1097.10 L1359.83 1097.13 L1364.27 1097.16 L1368.72 1097.19 L1373.17 1097.22 L1377.61 1097.24 L1382.06 1097.27 L1386.51 1097.29 L1390.95 1097.31 L1395.40 1097.33"/>
</g>
<g>
<path class="ax" d="M100.75 1228.40 H114.65 V1686.90 H100.75 M100.75 1595.20 H114.65 M100.75 1503.50 H114.65 M100.75 1411.80 H114.65 M100.75 1320.10 H114.65 M136.20 1719.30 V1705.60 H669.80 V1719.30 M181.52 1705.60 V1719.30 M222.45 1705.60 V1719.30 M267.77 1705.60 V1719.30 M311.63 1705.60 V1719.30 M356.95 1705.60 V1719.30 M400.81 1705.60 V1719.30 M446.13 1705.60 V1719.30 M491.45 1705.60 V1719.30 M535.30 1705.60 V1719.30 M580.62 1705.60 V1719.30 M624.48 1705.60 V1719.30"/>
<text class="t" transform="translate(86.05 1696.10) scale(1.000 1.025)" text-anchor="end">0.00</text>
<text class="t" transform="translate(86.05 1604.40) scale(1.000 1.025)" text-anchor="end">0.0<tspan class="h">1</tspan></text>
<path class="gj" transform="translate(72.70 1604.40) scale(0.011719 -0.012012)" d="M595 0V1237L277 1010V1180L610 1409H776V0Z"/>
<text class="t" transform="translate(86.05 1512.70) scale(1.000 1.025)" text-anchor="end">0.02</text>
<text class="t" transform="translate(86.05 1421.00) scale(1.000 1.025)" text-anchor="end">0.03</text>
<text class="t" transform="translate(86.05 1329.30) scale(1.000 1.025)" text-anchor="end">0.04</text>
<text class="t" transform="translate(86.05 1237.60) scale(1.000 1.025)" text-anchor="end">0.05</text>
<path class="gj" transform="translate(130.20 1758.10) scale(0.011719 -0.012012)" d="M457 -20Q99 -20 32 350L219 381Q237 265 300 200Q363 135 458 135Q562 135 622 206.5Q682 278 682 416V1409H872V420Q872 215 761 97.5Q650 -20 457 -20Z"/>
<text class="t" transform="translate(181.52 1758.10) scale(1.000 1.025)" text-anchor="middle">F</text>
<text class="t" transform="translate(222.45 1758.10) scale(1.000 1.025)" text-anchor="middle">M</text>
<text class="t" transform="translate(267.77 1758.10) scale(1.000 1.025)" text-anchor="middle">A</text>
<text class="t" transform="translate(311.63 1758.10) scale(1.000 1.025)" text-anchor="middle">M</text>
<path class="gj" transform="translate(350.95 1758.10) scale(0.011719 -0.012012)" d="M457 -20Q99 -20 32 350L219 381Q237 265 300 200Q363 135 458 135Q562 135 622 206.5Q682 278 682 416V1409H872V420Q872 215 761 97.5Q650 -20 457 -20Z"/>
<path class="gj" transform="translate(394.81 1758.10) scale(0.011719 -0.012012)" d="M457 -20Q99 -20 32 350L219 381Q237 265 300 200Q363 135 458 135Q562 135 622 206.5Q682 278 682 416V1409H872V420Q872 215 761 97.5Q650 -20 457 -20Z"/>
<text class="t" transform="translate(446.13 1758.10) scale(1.000 1.025)" text-anchor="middle">A</text>
<text class="t" transform="translate(491.45 1758.10) scale(1.000 1.025)" text-anchor="middle">S</text>
<text class="t" transform="translate(535.30 1758.10) scale(1.000 1.025)" text-anchor="middle">O</text>
<text class="t" transform="translate(580.62 1758.10) scale(1.000 1.025)" text-anchor="middle">N</text>
<text class="t" transform="translate(624.48 1758.10) scale(1.000 1.025)" text-anchor="middle">D</text>
<path class="gj" transform="translate(663.80 1758.10) scale(0.011719 -0.012012)" d="M457 -20Q99 -20 32 350L219 381Q237 265 300 200Q363 135 458 135Q562 135 622 206.5Q682 278 682 416V1409H872V420Q872 215 761 97.5Q650 -20 457 -20Z"/>
<text class="t yt" transform="translate(18.25 1457.65) rotate(-90) scale(1.000 1.025)" text-anchor="middle">Observations per 0.<tspan class="h">1</tspan>°x0.<tspan class="h">1</tspan>°</text>
<path class="gj" transform="translate(18.25 1457.65) rotate(-90) scale(1 1.025) translate(64.806 0) scale(0.011719 -0.011719)" d="M595 0V1237L277 1010V1180L610 1409H776V0Z"/>
<path class="gj" transform="translate(18.25 1457.65) rotate(-90) scale(1 1.025) translate(118.967 0) scale(0.011719 -0.011719)" d="M595 0V1237L277 1010V1180L610 1409H776V0Z"/>
<path class="c" d="M136.20 1568.34 L140.65 1571.42 L145.09 1574.29 L149.54 1576.97 L153.99 1579.46 L158.43 1581.75 L162.88 1583.86 L167.33 1585.79 L171.77 1587.54 L176.22 1589.12 L180.67 1590.53 L185.11 1591.76 L189.56 1592.83 L194.01 1593.73 L198.45 1594.48 L202.90 1595.06 L207.35 1595.49 L211.79 1595.75 L216.24 1595.86 L220.69 1595.82 L225.13 1595.62 L229.58 1595.25 L234.03 1594.74 L238.47 1594.06 L242.92 1593.22 L247.37 1592.22 L251.81 1591.05 L256.26 1589.71 L260.71 1588.21 L265.15 1586.53 L269.60 1584.67 L274.05 1582.64 L278.49 1580.42 L282.94 1578.01 L287.39 1575.41 L291.83 1572.61 L296.28 1569.62 L300.73 1566.43 L305.17 1563.03 L309.62 1559.42 L314.07 1555.60 L318.51 1551.57 L322.96 1547.33 L327.41 1542.88 L331.85 1538.22 L336.30 1533.35 L340.75 1528.28 L345.19 1523.00 L349.64 1517.53 L354.09 1511.88 L358.53 1506.05 L362.98 1500.05 L367.43 1493.91 L371.87 1487.63 L376.32 1481.24 L380.77 1474.75 L385.21 1468.18 L389.66 1461.57 L394.11 1454.93 L398.55 1448.30 L403.00 1441.71 L407.45 1435.19 L411.89 1428.76 L416.34 1422.48 L420.79 1416.37 L425.23 1410.46 L429.68 1404.80 L434.13 1399.42 L438.57 1394.36 L443.02 1389.65 L447.47 1385.33 L451.91 1381.41 L456.36 1377.95 L460.81 1374.95 L465.25 1372.44 L469.70 1370.44 L474.15 1368.97 L478.59 1368.04 L483.04 1367.66 L487.49 1367.82 L491.93 1368.53 L496.38 1369.78 L500.83 1371.56 L505.27 1373.86 L509.72 1376.67 L514.17 1379.94 L518.61 1383.68 L523.06 1387.84 L527.51 1392.40 L531.95 1397.32 L536.40 1402.57 L540.85 1408.12 L545.29 1413.93 L549.74 1419.96 L554.19 1426.18 L558.63 1432.55 L563.08 1439.04 L567.53 1445.61 L571.97 1452.23 L576.42 1458.86 L580.87 1465.49 L585.31 1472.08 L589.76 1478.60 L594.21 1485.04 L598.65 1491.36 L603.10 1497.56 L607.55 1503.62 L611.99 1509.52 L616.44 1515.25 L620.89 1520.79 L625.33 1526.15 L629.78 1531.30 L634.23 1536.26 L638.67 1541.01 L643.12 1545.54 L647.57 1549.87 L652.01 1553.98 L656.46 1557.89 L660.91 1561.58 L665.35 1565.06 L669.80 1568.34"/>
<path class="c d2" d="M136.20 1662.57 L140.65 1663.21 L145.09 1663.80 L149.54 1664.35 L153.99 1664.87 L158.43 1665.34 L162.88 1665.77 L167.33 1666.17 L171.77 1666.53 L176.22 1666.86 L180.67 1667.15 L185.11 1667.40 L189.56 1667.62 L194.01 1667.81 L198.45 1667.96 L202.90 1668.08 L207.35 1668.17 L211.79 1668.23 L216.24 1668.25 L220.69 1668.24 L225.13 1668.20 L229.58 1668.12 L234.03 1668.02 L238.47 1667.88 L242.92 1667.70 L247.37 1667.50 L251.81 1667.26 L256.26 1666.98 L260.71 1666.67 L265.15 1666.32 L269.60 1665.94 L274.05 1665.52 L278.49 1665.06 L282.94 1664.57 L287.39 1664.03 L291.83 1663.45 L296.28 1662.84 L300.73 1662.18 L305.17 1661.48 L309.62 1660.73 L314.07 1659.95 L318.51 1659.12 L322.96 1658.24 L327.41 1657.32 L331.85 1656.36 L336.30 1655.36 L340.75 1654.31 L345.19 1653.23 L349.64 1652.10 L354.09 1650.93 L358.53 1649.73 L362.98 1648.49 L367.43 1647.23 L371.87 1645.93 L376.32 1644.61 L380.77 1643.28 L385.21 1641.92 L389.66 1640.56 L394.11 1639.19 L398.55 1637.82 L403.00 1636.46 L407.45 1635.12 L411.89 1633.80 L416.34 1632.50 L420.79 1631.24 L425.23 1630.02 L429.68 1628.85 L434.13 1627.75 L438.57 1626.70 L443.02 1625.73 L447.47 1624.84 L451.91 1624.03 L456.36 1623.32 L460.81 1622.70 L465.25 1622.18 L469.70 1621.77 L474.15 1621.47 L478.59 1621.28 L483.04 1621.20 L487.49 1621.23 L491.93 1621.38 L496.38 1621.63 L500.83 1622.00 L505.27 1622.48 L509.72 1623.05 L514.17 1623.73 L518.61 1624.50 L523.06 1625.36 L527.51 1626.30 L531.95 1627.31 L536.40 1628.39 L540.85 1629.54 L545.29 1630.74 L549.74 1631.98 L554.19 1633.26 L558.63 1634.58 L563.08 1635.91 L567.53 1637.27 L571.97 1638.63 L576.42 1640.00 L580.87 1641.37 L585.31 1642.73 L589.76 1644.07 L594.21 1645.40 L598.65 1646.70 L603.10 1647.98 L607.55 1649.23 L611.99 1650.45 L616.44 1651.63 L620.89 1652.77 L625.33 1653.87 L629.78 1654.94 L634.23 1655.96 L638.67 1656.94 L643.12 1657.87 L647.57 1658.77 L652.01 1659.61 L656.46 1660.42 L660.91 1661.18 L665.35 1661.90 L669.80 1662.57"/>
<path class="c d3" d="M136.20 1686.41 L140.65 1686.43 L145.09 1686.44 L149.54 1686.46 L153.99 1686.47 L158.43 1686.48 L162.88 1686.50 L167.33 1686.51 L171.77 1686.52 L176.22 1686.52 L180.67 1686.53 L185.11 1686.54 L189.56 1686.54 L194.01 1686.55 L198.45 1686.55 L202.90 1686.56 L207.35 1686.56 L211.79 1686.56 L216.24 1686.56 L220.69 1686.56 L225.13 1686.56 L229.58 1686.56 L234.03 1686.55 L238.47 1686.55 L242.92 1686.55 L247.37 1686.54 L251.81 1686.53 L256.26 1686.53 L260.71 1686.52 L265.15 1686.51 L269.60 1686.50 L274.05 1686.49 L278.49 1686.48 L282.94 1686.46 L287.39 1686.45 L291.83 1686.43 L296.28 1686.42 L300.73 1686.40 L305.17 1686.38 L309.62 1686.36 L314.07 1686.34 L318.51 1686.32 L322.96 1686.30 L327.41 1686.27 L331.85 1686.25 L336.30 1686.22 L340.75 1686.20 L345.19 1686.17 L349.64 1686.14 L354.09 1686.11 L358.53 1686.08 L362.98 1686.04 L367.43 1686.01 L371.87 1685.98 L376.32 1685.94 L380.77 1685.91 L385.21 1685.87 L389.66 1685.84 L394.11 1685.80 L398.55 1685.77 L403.00 1685.73 L407.45 1685.70 L411.89 1685.66 L416.34 1685.63 L420.79 1685.59 L425.23 1685.56 L429.68 1685.53 L434.13 1685.50 L438.57 1685.48 L443.02 1685.45 L447.47 1685.43 L451.91 1685.41 L456.36 1685.39 L460.81 1685.37 L465.25 1685.36 L469.70 1685.35 L474.15 1685.34 L478.59 1685.33 L483.04 1685.33 L487.49 1685.33 L491.93 1685.34 L496.38 1685.34 L500.83 1685.35 L505.27 1685.37 L509.72 1685.38 L514.17 1685.40 L518.61 1685.42 L523.06 1685.44 L527.51 1685.47 L531.95 1685.49 L536.40 1685.52 L540.85 1685.55 L545.29 1685.58 L549.74 1685.61 L554.19 1685.65 L558.63 1685.68 L563.08 1685.72 L567.53 1685.75 L571.97 1685.79 L576.42 1685.82 L580.87 1685.86 L585.31 1685.89 L589.76 1685.93 L594.21 1685.96 L598.65 1686.00 L603.10 1686.03 L607.55 1686.06 L611.99 1686.10 L616.44 1686.13 L620.89 1686.16 L625.33 1686.18 L629.78 1686.21 L634.23 1686.24 L638.67 1686.26 L643.12 1686.29 L647.57 1686.31 L652.01 1686.33 L656.46 1686.36 L660.91 1686.38 L665.35 1686.39 L669.80 1686.41"/>
<text class="tmp" transform="translate(185.90 1424.30) scale(0.985 1.030)" text-anchor="start">29°C</text>
<text class="t" transform="translate(403.00 1799.80) scale(1.000 1.025)" text-anchor="middle">Year</text>
</g>
<g>
<path class="ax" d="M826.50 1228.40 H840.40 V1686.90 H826.50 M826.50 1595.20 H840.40 M826.50 1503.50 H840.40 M826.50 1411.80 H840.40 M826.50 1320.10 H840.40 M861.80 1719.30 V1705.60 H1395.40 V1719.30 M907.12 1705.60 V1719.30 M948.05 1705.60 V1719.30 M993.37 1705.60 V1719.30 M1037.23 1705.60 V1719.30 M1082.55 1705.60 V1719.30 M1126.41 1705.60 V1719.30 M1171.73 1705.60 V1719.30 M1217.05 1705.60 V1719.30 M1260.90 1705.60 V1719.30 M1306.22 1705.60 V1719.30 M1350.08 1705.60 V1719.30"/>
<text class="t" transform="translate(811.80 1696.10) scale(1.000 1.025)" text-anchor="end">0.00</text>
<text class="t" transform="translate(811.80 1604.40) scale(1.000 1.025)" text-anchor="end">0.0<tspan class="h">1</tspan></text>
<path class="gj" transform="translate(798.45 1604.40) scale(0.011719 -0.012012)" d="M595 0V1237L277 1010V1180L610 1409H776V0Z"/>
<text class="t" transform="translate(811.80 1512.70) scale(1.000 1.025)" text-anchor="end">0.02</text>
<text class="t" transform="translate(811.80 1421.00) scale(1.000 1.025)" text-anchor="end">0.03</text>
<text class="t" transform="translate(811.80 1329.30) scale(1.000 1.025)" text-anchor="end">0.04</text>
<text class="t" transform="translate(811.80 1237.60) scale(1.000 1.025)" text-anchor="end">0.05</text>
<path class="gj" transform="translate(855.80 1758.10) scale(0.011719 -0.012012)" d="M457 -20Q99 -20 32 350L219 381Q237 265 300 200Q363 135 458 135Q562 135 622 206.5Q682 278 682 416V1409H872V420Q872 215 761 97.5Q650 -20 457 -20Z"/>
<text class="t" transform="translate(907.12 1758.10) scale(1.000 1.025)" text-anchor="middle">F</text>
<text class="t" transform="translate(948.05 1758.10) scale(1.000 1.025)" text-anchor="middle">M</text>
<text class="t" transform="translate(993.37 1758.10) scale(1.000 1.025)" text-anchor="middle">A</text>
<text class="t" transform="translate(1037.23 1758.10) scale(1.000 1.025)" text-anchor="middle">M</text>
<path class="gj" transform="translate(1076.55 1758.10) scale(0.011719 -0.012012)" d="M457 -20Q99 -20 32 350L219 381Q237 265 300 200Q363 135 458 135Q562 135 622 206.5Q682 278 682 416V1409H872V420Q872 215 761 97.5Q650 -20 457 -20Z"/>
<path class="gj" transform="translate(1120.41 1758.10) scale(0.011719 -0.012012)" d="M457 -20Q99 -20 32 350L219 381Q237 265 300 200Q363 135 458 135Q562 135 622 206.5Q682 278 682 416V1409H872V420Q872 215 761 97.5Q650 -20 457 -20Z"/>
<text class="t" transform="translate(1171.73 1758.10) scale(1.000 1.025)" text-anchor="middle">A</text>
<text class="t" transform="translate(1217.05 1758.10) scale(1.000 1.025)" text-anchor="middle">S</text>
<text class="t" transform="translate(1260.90 1758.10) scale(1.000 1.025)" text-anchor="middle">O</text>
<text class="t" transform="translate(1306.22 1758.10) scale(1.000 1.025)" text-anchor="middle">N</text>
<text class="t" transform="translate(1350.08 1758.10) scale(1.000 1.025)" text-anchor="middle">D</text>
<path class="gj" transform="translate(1389.40 1758.10) scale(0.011719 -0.012012)" d="M457 -20Q99 -20 32 350L219 381Q237 265 300 200Q363 135 458 135Q562 135 622 206.5Q682 278 682 416V1409H872V420Q872 215 761 97.5Q650 -20 457 -20Z"/>
<text class="t yt" transform="translate(744.00 1457.65) rotate(-90) scale(1.000 1.025)" text-anchor="middle">Observations per 0.<tspan class="h">1</tspan>°x0.<tspan class="h">1</tspan>°</text>
<path class="gj" transform="translate(744.00 1457.65) rotate(-90) scale(1 1.025) translate(64.806 0) scale(0.011719 -0.011719)" d="M595 0V1237L277 1010V1180L610 1409H776V0Z"/>
<path class="gj" transform="translate(744.00 1457.65) rotate(-90) scale(1 1.025) translate(118.967 0) scale(0.011719 -0.011719)" d="M595 0V1237L277 1010V1180L610 1409H776V0Z"/>
<path class="c" d="M861.80 1577.27 L866.25 1580.12 L870.69 1582.78 L875.14 1585.25 L879.59 1587.55 L884.03 1589.68 L888.48 1591.63 L892.93 1593.41 L897.37 1595.03 L901.82 1596.49 L906.27 1597.79 L910.71 1598.93 L915.16 1599.92 L919.61 1600.76 L924.05 1601.44 L928.50 1601.98 L932.95 1602.38 L937.39 1602.62 L941.84 1602.73 L946.29 1602.68 L950.73 1602.50 L955.18 1602.16 L959.63 1601.68 L964.07 1601.05 L968.52 1600.28 L972.97 1599.35 L977.41 1598.27 L981.86 1597.04 L986.31 1595.65 L990.75 1594.09 L995.20 1592.38 L999.65 1590.49 L1004.09 1588.44 L1008.54 1586.21 L1012.99 1583.81 L1017.43 1581.22 L1021.88 1578.46 L1026.33 1575.50 L1030.77 1572.36 L1035.22 1569.02 L1039.67 1565.49 L1044.11 1561.77 L1048.56 1557.85 L1053.01 1553.73 L1057.45 1549.42 L1061.90 1544.92 L1066.35 1540.22 L1070.79 1535.34 L1075.24 1530.29 L1079.69 1525.06 L1084.13 1519.67 L1088.58 1514.12 L1093.03 1508.44 L1097.47 1502.64 L1101.92 1496.72 L1106.37 1490.72 L1110.81 1484.65 L1115.26 1478.54 L1119.71 1472.40 L1124.15 1466.27 L1128.60 1460.17 L1133.05 1454.14 L1137.49 1448.20 L1141.94 1442.39 L1146.39 1436.73 L1150.83 1431.27 L1155.28 1426.04 L1159.73 1421.07 L1164.17 1416.39 L1168.62 1412.03 L1173.07 1408.03 L1177.51 1404.41 L1181.96 1401.20 L1186.41 1398.43 L1190.85 1396.11 L1195.30 1394.27 L1199.75 1392.91 L1204.19 1392.05 L1208.64 1391.69 L1213.09 1391.84 L1217.53 1392.50 L1221.98 1393.65 L1226.43 1395.30 L1230.87 1397.43 L1235.32 1400.02 L1239.77 1403.05 L1244.21 1406.51 L1248.66 1410.35 L1253.11 1414.57 L1257.55 1419.12 L1262.00 1423.98 L1266.45 1429.11 L1270.89 1434.48 L1275.34 1440.06 L1279.79 1445.81 L1284.23 1451.70 L1288.68 1457.70 L1293.13 1463.77 L1297.57 1469.90 L1302.02 1476.03 L1306.47 1482.16 L1310.91 1488.25 L1315.36 1494.28 L1319.81 1500.24 L1324.25 1506.09 L1328.70 1511.82 L1333.15 1517.42 L1337.59 1522.88 L1342.04 1528.17 L1346.49 1533.30 L1350.93 1538.25 L1355.38 1543.02 L1359.83 1547.61 L1364.27 1552.00 L1368.72 1556.19 L1373.17 1560.19 L1377.61 1564.00 L1382.06 1567.61 L1386.51 1571.02 L1390.95 1574.24 L1395.40 1577.27"/>
<path class="c d2" d="M861.80 1664.42 L866.25 1665.00 L870.69 1665.55 L875.14 1666.06 L879.59 1666.54 L884.03 1666.97 L888.48 1667.38 L892.93 1667.74 L897.37 1668.08 L901.82 1668.38 L906.27 1668.65 L910.71 1668.88 L915.16 1669.08 L919.61 1669.26 L924.05 1669.40 L928.50 1669.51 L932.95 1669.59 L937.39 1669.64 L941.84 1669.66 L946.29 1669.65 L950.73 1669.62 L955.18 1669.55 L959.63 1669.45 L964.07 1669.32 L968.52 1669.16 L972.97 1668.97 L977.41 1668.75 L981.86 1668.49 L986.31 1668.20 L990.75 1667.88 L995.20 1667.53 L999.65 1667.14 L1004.09 1666.72 L1008.54 1666.26 L1012.99 1665.76 L1017.43 1665.23 L1021.88 1664.66 L1026.33 1664.05 L1030.77 1663.40 L1035.22 1662.71 L1039.67 1661.99 L1044.11 1661.22 L1048.56 1660.41 L1053.01 1659.56 L1057.45 1658.67 L1061.90 1657.74 L1066.35 1656.78 L1070.79 1655.77 L1075.24 1654.73 L1079.69 1653.65 L1084.13 1652.54 L1088.58 1651.40 L1093.03 1650.22 L1097.47 1649.03 L1101.92 1647.81 L1106.37 1646.57 L1110.81 1645.32 L1115.26 1644.06 L1119.71 1642.79 L1124.15 1641.53 L1128.60 1640.27 L1133.05 1639.03 L1137.49 1637.80 L1141.94 1636.60 L1146.39 1635.44 L1150.83 1634.31 L1155.28 1633.23 L1159.73 1632.21 L1164.17 1631.24 L1168.62 1630.34 L1173.07 1629.52 L1177.51 1628.77 L1181.96 1628.11 L1186.41 1627.54 L1190.85 1627.06 L1195.30 1626.68 L1199.75 1626.40 L1204.19 1626.22 L1208.64 1626.15 L1213.09 1626.18 L1217.53 1626.32 L1221.98 1626.56 L1226.43 1626.90 L1230.87 1627.33 L1235.32 1627.87 L1239.77 1628.49 L1244.21 1629.21 L1248.66 1630.00 L1253.11 1630.87 L1257.55 1631.81 L1262.00 1632.81 L1266.45 1633.87 L1270.89 1634.97 L1275.34 1636.12 L1279.79 1637.31 L1284.23 1638.52 L1288.68 1639.76 L1293.13 1641.01 L1297.57 1642.28 L1302.02 1643.54 L1306.47 1644.80 L1310.91 1646.06 L1315.36 1647.30 L1319.81 1648.53 L1324.25 1649.74 L1328.70 1650.92 L1333.15 1652.08 L1337.59 1653.20 L1342.04 1654.29 L1346.49 1655.35 L1350.93 1656.37 L1355.38 1657.35 L1359.83 1658.30 L1364.27 1659.20 L1368.72 1660.07 L1373.17 1660.89 L1377.61 1661.68 L1382.06 1662.42 L1386.51 1663.13 L1390.95 1663.79 L1395.40 1664.42"/>
<path class="c d3" d="M861.80 1686.46 L866.25 1686.48 L870.69 1686.49 L875.14 1686.50 L879.59 1686.52 L884.03 1686.53 L888.48 1686.54 L892.93 1686.55 L897.37 1686.56 L901.82 1686.56 L906.27 1686.57 L910.71 1686.58 L915.16 1686.58 L919.61 1686.59 L924.05 1686.59 L928.50 1686.59 L932.95 1686.59 L937.39 1686.60 L941.84 1686.60 L946.29 1686.60 L950.73 1686.60 L955.18 1686.59 L959.63 1686.59 L964.07 1686.59 L968.52 1686.58 L972.97 1686.58 L977.41 1686.57 L981.86 1686.57 L986.31 1686.56 L990.75 1686.55 L995.20 1686.54 L999.65 1686.53 L1004.09 1686.52 L1008.54 1686.51 L1012.99 1686.49 L1017.43 1686.48 L1021.88 1686.47 L1026.33 1686.45 L1030.77 1686.43 L1035.22 1686.42 L1039.67 1686.40 L1044.11 1686.38 L1048.56 1686.36 L1053.01 1686.33 L1057.45 1686.31 L1061.90 1686.29 L1066.35 1686.26 L1070.79 1686.23 L1075.24 1686.21 L1079.69 1686.18 L1084.13 1686.15 L1088.58 1686.12 L1093.03 1686.09 L1097.47 1686.06 L1101.92 1686.03 L1106.37 1685.99 L1110.81 1685.96 L1115.26 1685.93 L1119.71 1685.90 L1124.15 1685.86 L1128.60 1685.83 L1133.05 1685.80 L1137.49 1685.77 L1141.94 1685.73 L1146.39 1685.70 L1150.83 1685.67 L1155.28 1685.65 L1159.73 1685.62 L1164.17 1685.59 L1168.62 1685.57 L1173.07 1685.55 L1177.51 1685.53 L1181.96 1685.51 L1186.41 1685.50 L1190.85 1685.49 L1195.30 1685.48 L1199.75 1685.47 L1204.19 1685.46 L1208.64 1685.46 L1213.09 1685.46 L1217.53 1685.47 L1221.98 1685.47 L1226.43 1685.48 L1230.87 1685.49 L1235.32 1685.51 L1239.77 1685.52 L1244.21 1685.54 L1248.66 1685.56 L1253.11 1685.59 L1257.55 1685.61 L1262.00 1685.64 L1266.45 1685.66 L1270.89 1685.69 L1275.34 1685.72 L1279.79 1685.75 L1284.23 1685.78 L1288.68 1685.82 L1293.13 1685.85 L1297.57 1685.88 L1302.02 1685.92 L1306.47 1685.95 L1310.91 1685.98 L1315.36 1686.01 L1319.81 1686.05 L1324.25 1686.08 L1328.70 1686.11 L1333.15 1686.14 L1337.59 1686.17 L1342.04 1686.20 L1346.49 1686.22 L1350.93 1686.25 L1355.38 1686.28 L1359.83 1686.30 L1364.27 1686.32 L1368.72 1686.35 L1373.17 1686.37 L1377.61 1686.39 L1382.06 1686.41 L1386.51 1686.43 L1390.95 1686.44 L1395.40 1686.46"/>
<text class="t" transform="translate(1128.60 1799.80) scale(1.000 1.025)" text-anchor="middle">Year</text>
</g>
</svg>
</body></html>
